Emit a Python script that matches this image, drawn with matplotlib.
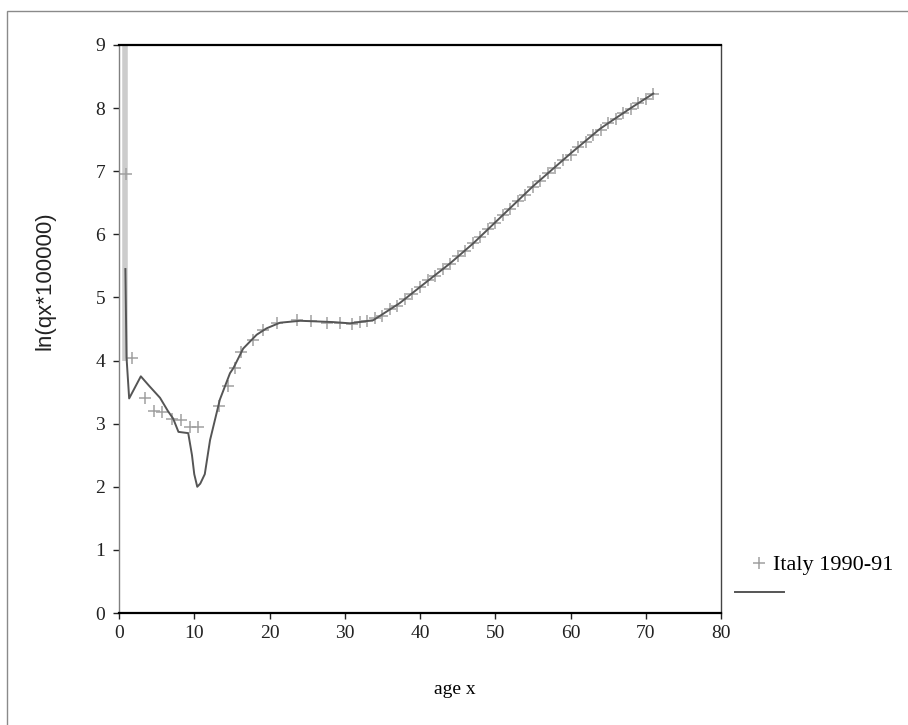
import numpy as np
import matplotlib.pyplot as plt
from matplotlib.lines import Line2D
from matplotlib.patches import Rectangle

plt.rcParams["font.family"] = "Liberation Serif"

# observed ln(qx*100000), Italy 1990-91
obs_age = [0.9, 1.7, 3.45, 4.6, 5.7, 7.0, 8.3, 9.5, 10.5, 13.3, 14.5, 15.4,
           16.2, 17.8, 19.2, 21.0, 23.6, 25.5, 27.6, 29.4,
           31, 32, 33, 34, 35, 36, 37, 38, 39, 40, 41, 42, 43, 44, 45, 46,
           47, 48, 49, 50, 51, 52, 53, 54, 55, 56, 57, 58, 59, 60, 61, 62,
           63, 64, 65, 66, 67, 68, 69, 70, 71]
obs_val = [6.95, 4.04, 3.40, 3.20, 3.19, 3.08, 3.06, 2.94, 2.94, 3.28, 3.60,
           3.88, 4.14, 4.33, 4.49, 4.59, 4.64, 4.63, 4.60, 4.59,
           4.58, 4.61, 4.62, 4.67, 4.71, 4.81, 4.87, 4.98, 5.05, 5.17, 5.27,
           5.34, 5.45, 5.53, 5.65, 5.73, 5.86, 5.95, 6.08, 6.18, 6.31, 6.40,
           6.53, 6.62, 6.75, 6.84, 6.97, 7.05, 7.17, 7.26, 7.38, 7.46, 7.58,
           7.65, 7.76, 7.82, 7.92, 7.98, 8.08, 8.14, 8.23]

# fitted curve
fit_age = [0.85, 1.0, 1.35, 2.9, 4.0, 5.45, 6.5, 7.2, 7.9, 9.2, 9.7, 10.0,
           10.4, 10.8, 11.4, 12.1, 13.4, 14.75, 15.2, 16.5, 18.3, 19.6,
           21.4, 24.1, 28.4, 30.7, 33.8, 37.3, 40.9, 44.0, 47.1, 50.0,
           55.0, 60.0, 63.9, 65.0, 68.0, 71.0]
fit_val = [5.45, 4.05, 3.40, 3.75, 3.60, 3.41, 3.20, 3.08, 2.87, 2.85, 2.50,
           2.20, 2.00, 2.05, 2.20, 2.74, 3.38, 3.80, 3.88, 4.19, 4.41, 4.51,
           4.60, 4.63, 4.61, 4.59, 4.64, 4.91, 5.25, 5.54, 5.86, 6.19,
           6.76, 7.28, 7.67, 7.76, 8.00, 8.23]

# fitted value near age 0 runs off the top of the scale
spike_age = 0.8
spike_low, spike_high = 4.0, 9.0

fig = plt.figure(figsize=(9.08, 7.25), dpi=100)
fig.patches.append(Rectangle((7 / 908, -0.1), 1.2, 1 - 11 / 725 + 0.1,
                             transform=fig.transFigure, fill=False,
                             edgecolor="#8a8a8a", linewidth=1.0))

ax = fig.add_axes([119 / 908, 112 / 725, 602 / 908, 568 / 725])
ax.vlines(spike_age, spike_low, spike_high, color="#cccccc", linewidth=4)
ax.plot(obs_age, obs_val, linestyle="none", marker="+", markersize=8,
        markeredgewidth=1.1, color="#a0a0a0")
ax.plot(fit_age, fit_val, color="#555555", linewidth=1.4)

ax.set_xlim(0, 80)
ax.set_ylim(0, 9)
ax.set_xticks(np.arange(0, 81, 10))
ax.set_yticks(np.arange(0, 10, 1))
ax.tick_params(axis="both", labelsize=14, colors="#222222", length=4,
               width=1, direction="out")
ax.tick_params(axis="y", pad=6)
ax.tick_params(axis="x", pad=5)

ax.spines["top"].set_linewidth(1.6)
ax.spines["top"].set_color("black")
ax.spines["bottom"].set_linewidth(1.6)
ax.spines["bottom"].set_color("black")
ax.spines["left"].set_color("#808080")
ax.spines["left"].set_linewidth(1.0)
ax.spines["right"].set_color("#444444")
ax.spines["right"].set_linewidth(1.0)

fig.text(45 / 908, 1 - 281 / 725, "ln(qx*100000)", rotation=90,
         ha="center", va="center", fontsize=16, family="Liberation Sans",
         color="#222222")
fig.text(455 / 908, 1 - 690 / 725, "age x", ha="center", va="center",
         fontsize=14)

handles = [Line2D([], [], linestyle="none", marker="+", markersize=8,
                  markeredgewidth=1.1, color="#a0a0a0"),
           Line2D([], [], color="#555555", linewidth=1.4)]
fig.legend(handles, ["Italy 1990-91", ""], loc="upper left",
           bbox_to_anchor=(726 / 908, 1 - 546 / 725), frameon=False,
           fontsize=16, handlelength=2.2, labelspacing=0.4,
           handletextpad=-0.5, borderaxespad=0)

fig.savefig("out.png", dpi=100)
